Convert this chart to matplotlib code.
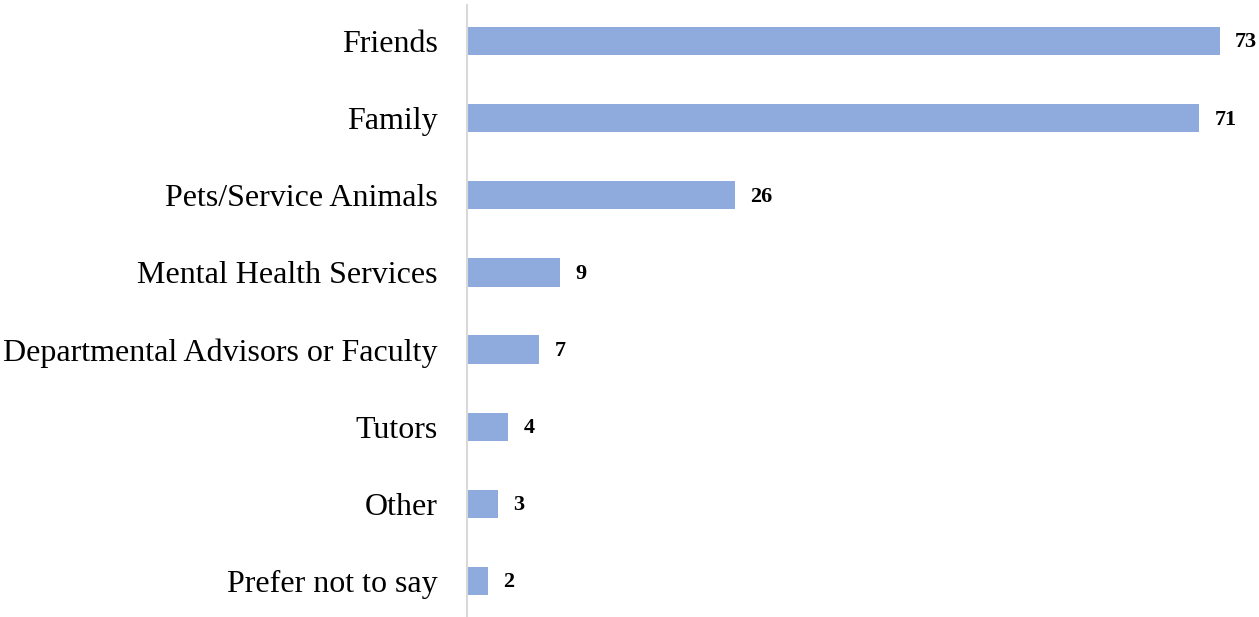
import matplotlib
matplotlib.use("Agg")
import matplotlib.pyplot as plt

categories = [
    "Friends",
    "Family",
    "Pets/Service Animals",
    "Mental Health Services",
    "Departmental Advisors or Faculty",
    "Tutors",
    "Other",
    "Prefer not to say",
]
counts = [73, 71, 26, 9, 7, 4, 3, 2]

plt.rcParams["font.family"] = ["Liberation Serif", "DejaVu Serif"]

W, H = 1259, 617
fig = plt.figure(figsize=(W / 100, H / 100), dpi=100)
ax = fig.add_axes([467 / W, 1 - 619.5 / H, 783.6 / W, 617 / H])

positions = list(range(len(categories)))
bars = ax.barh(positions, counts, height=0.365, color="#8FAADC")

ax.set_ylim(len(categories) - 0.5, -0.5)
ax.set_xlim(0, 76)

ax.set_yticks(positions)
ax.set_yticklabels(categories, fontsize=23)
ax.tick_params(axis="y", length=0, pad=21)
ax.set_xticks([])

for side in ["top", "right", "bottom"]:
    ax.spines[side].set_visible(False)
ax.spines["left"].set_color("#D9D9D9")
ax.spines["left"].set_linewidth(1.5)
ax.spines["left"].set_bounds(len(categories) - 0.48, -0.47)

for rect, v in zip(bars, counts):
    ax.annotate(
        str(v),
        xy=(rect.get_width(), rect.get_y() + rect.get_height() / 2),
        xytext=(11, -1),
        textcoords="offset points",
        va="center",
        ha="left",
        fontsize=16,
        fontweight="bold",
    )

fig.savefig("out.png", dpi=100)
